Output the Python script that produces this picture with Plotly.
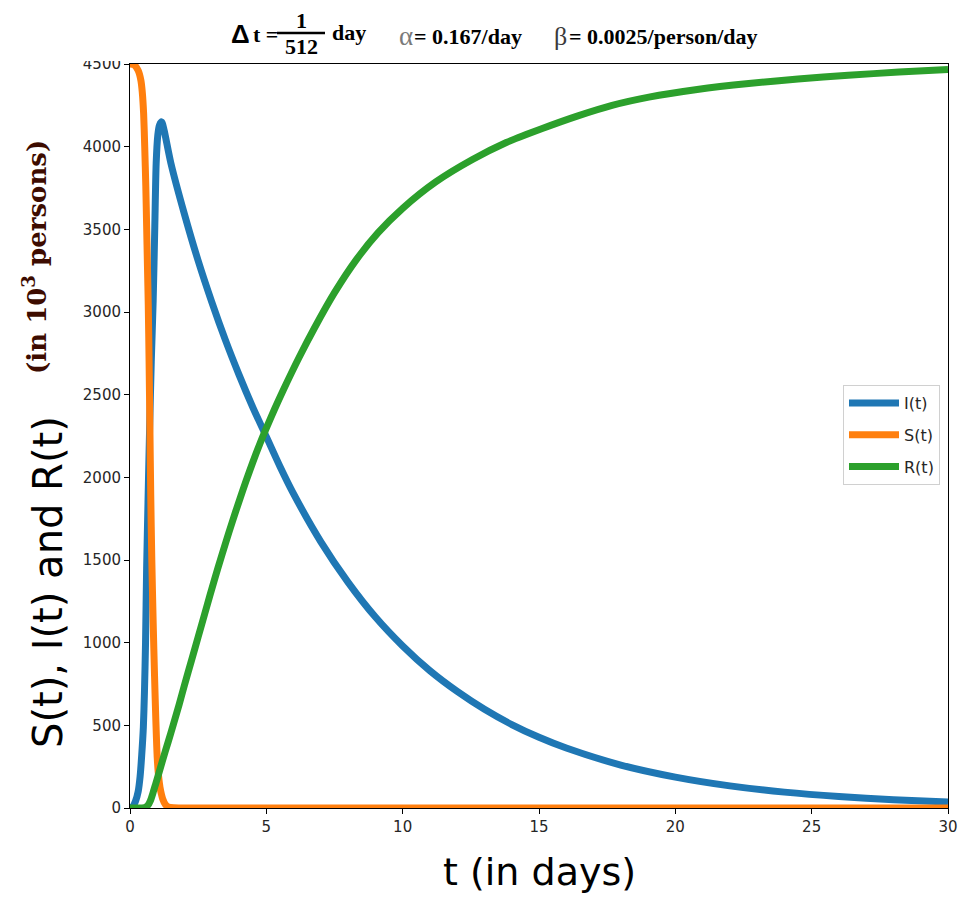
import plotly.graph_objects as go

# ---------------- data ----------------
t_I = [0, 0.1, 0.2, 0.3, 0.37, 0.43, 0.49, 0.53, 0.57, 0.61, 0.66, 0.72, 0.78, 0.85,
       0.91, 0.96, 1.02, 1.08, 1.16, 1.25, 1.5, 2.0, 2.5, 3.0, 3.5, 4.0, 4.5, 5.0,
       5.5, 6, 7, 8, 9, 10, 11, 12, 13, 14, 15, 16, 18, 20, 22, 24, 26, 28, 30]
I_vals = [2, 8, 40, 100, 190, 320, 490, 700, 1000, 1450, 1850, 2300, 2700, 3070,
          3520, 3900, 4070, 4130, 4150, 4100, 3900, 3590, 3310, 3060, 2830, 2620, 2425, 2246,
          2066, 1900, 1610, 1365, 1155, 980, 830, 705, 597, 505, 428, 363, 260, 187, 134,
          96, 69, 50, 37]

t_S = [0, 0.15, 0.3, 0.4, 0.45, 0.5, 0.54, 0.58, 0.61, 0.64, 0.67, 0.7, 0.73, 0.76,
       0.8, 0.85, 0.9, 0.95, 1.0, 1.05, 1.1, 1.15, 1.2, 1.3, 1.4, 1.6, 2.0, 5, 10,
       15, 20, 25, 30]
S_vals = [4500, 4495, 4460, 4400, 4330, 4200, 4000, 3760, 3520, 3280, 3040, 2700, 2300, 1900,
          1500, 1120, 800, 520, 300, 190, 125, 85, 55, 20, 6, 1, 0, 0, 0,
          0, 0, 0, 0]

t_R = [0, 0.45, 0.55, 0.65, 0.75, 0.85, 0.95, 1.05, 1.18, 1.4, 1.59, 1.8, 2.0, 2.26,
       2.5, 2.75, 2.93, 3.23, 3.5, 3.75, 4.0, 4.25, 4.5, 4.76, 5.0, 5.3, 5.61, 6.2,
       6.77, 7.5, 8.29, 9.1, 10.0, 11.2, 12.56, 13.8, 15.12, 16.4, 17.68, 19.03, 20.8,
       22.69, 24.5, 26.34, 28.2, 30]
R_vals = [0, 0, 3, 15, 45, 95, 150, 205, 280, 400, 505, 625, 745, 895,
          1035, 1180, 1285, 1455, 1600, 1730, 1855, 1975, 2090, 2202, 2298, 2412, 2524, 2725,
          2905, 3117, 3314, 3480, 3627, 3785, 3922, 4025, 4110, 4185, 4250, 4300, 4346,
          4382, 4409, 4432, 4451, 4467]

series_names = ["I(t)", "S(t)", "R(t)"]
series_colors = ["#1f77b4", "#ff7f0e", "#2ca02c"]
x_ticks = [0, 5, 10, 15, 20, 25, 30]
y_ticks = [0, 500, 1000, 1500, 2000, 2500, 3000, 3500, 4000, 4500]

# ---------------- layout geometry (pixels) ----------------
W, H = 963, 900
L, R_, T, B = 130, 948, 64, 808


def px(x):
    return (x - L) / (R_ - L)


def py(y):
    return (B - y) / (B - T)


fig = go.Figure()
for name, tx, vals, col in zip(series_names, [t_I, t_S, t_R],
                               [I_vals, S_vals, R_vals], series_colors):
    fig.add_trace(go.Scatter(
        x=tx, y=vals, mode="lines", name=name, legendgroup=name,
        line=dict(color=col, width=7, shape="spline", smoothing=0.7),
    ))

axis_common = dict(
    showgrid=False, zeroline=False, showline=True, linecolor="black", linewidth=1,
    mirror=True, ticks="outside", ticklen=5, tickcolor="black", tickwidth=1,
    automargin=False,
    tickfont=dict(family="DejaVu Sans", size=15, color="#262626"),
)

fig.update_layout(
    width=W, height=H, autosize=False,
    margin=dict(l=L, r=W - R_, t=T, b=H - B, pad=0),
    paper_bgcolor="white", plot_bgcolor="white",
    xaxis=dict(range=[0, 30], tickvals=x_ticks, **axis_common),
    yaxis=dict(range=[0, 4500], tickvals=y_ticks, **axis_common),
    showlegend=True,
    legend=dict(
        x=px(940), y=py(385), xanchor="right", yanchor="top",
        bgcolor="rgba(255,255,255,0.8)", bordercolor="#d0d0d0", borderwidth=1,
        font=dict(family="DejaVu Sans", size=16, color="#262626"),
        tracegroupgap=8, itemwidth=50,
    ),
)

ann = []
# axis titles
ann.append(dict(text="t (in days)", x=px(539), y=py(872), xref="paper", yref="paper",
                showarrow=False, xanchor="center", yanchor="middle",
                font=dict(family="DejaVu Sans", size=38, color="black")))
ann.append(dict(text="S(t), I(t) and R(t)", x=px(48), y=py(582), xref="paper", yref="paper",
                showarrow=False, xanchor="center", yanchor="middle", textangle=-90,
                font=dict(family="DejaVu Sans", size=40, color="black")))
ann.append(dict(text="<b>(in 10<sup>3</sup> persons)</b>", x=px(35), y=py(257),
                xref="paper", yref="paper", showarrow=False, xanchor="center",
                yanchor="middle", textangle=-90,
                font=dict(family="DejaVu Serif", size=26, color="#3d0c00")))

# title pieces
serif = "Liberation Serif"


def t_ann(text, x, y, size, color="black", family=serif, anchor="left"):
    ann.append(dict(text=text, x=px(x), y=py(y), xref="paper", yref="paper",
                    showarrow=False, xanchor=anchor, yanchor="middle",
                    font=dict(family=family, size=size, color=color)))


t_ann("<b>Δ</b>", 229, 34, 26, family="Liberation Sans")
t_ann("<b>t =</b>", 251, 34, 22)
t_ann("<b>1</b>", 301, 20, 22, anchor="center")
t_ann("<b>512</b>", 301, 47, 22, anchor="center")
t_ann("<b>day</b>", 330, 33, 22)
t_ann("α", 397, 36, 27, color="#7a7a7a")
t_ann("<b>= 0.167/day</b>", 412, 37, 22)
t_ann("β", 552, 36, 26, color="#3a3a3a")
t_ann("<b>= 0.0025/person/day</b>", 567, 37, 22)

fig.update_layout(annotations=ann)

shapes = [
    # fraction bar
    dict(type="line", xref="paper", yref="paper", x0=px(277), x1=px(325),
         y0=py(33), y1=py(33), line=dict(color="black", width=2.5)),
    # white band clipping the top tick label as in the reference
    dict(type="rect", xref="paper", yref="paper", x0=px(55), x1=px(128),
         y0=py(61), y1=py(0), fillcolor="white", line=dict(width=0), layer="above"),
]
fig.update_layout(shapes=shapes)

fig.write_html("out.html")
